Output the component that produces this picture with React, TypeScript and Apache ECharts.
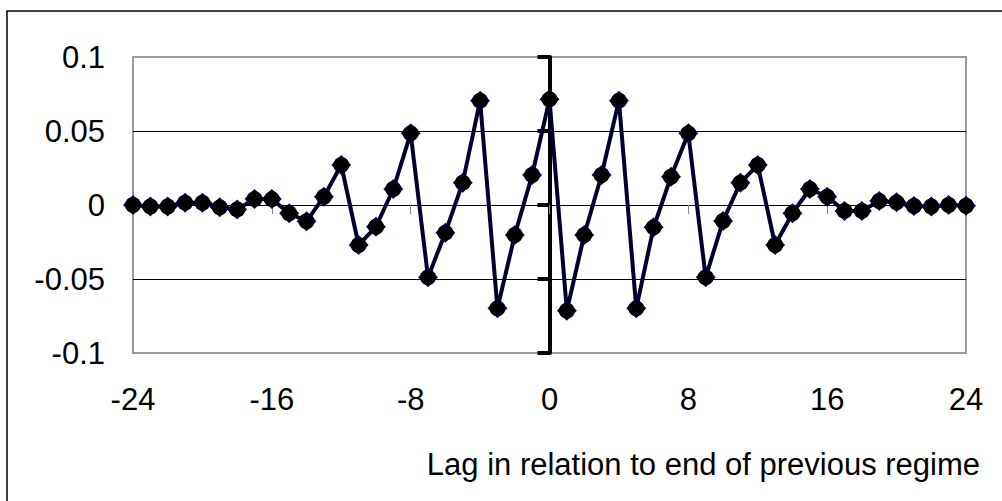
import React, { useEffect, useRef } from "react";
import * as echarts from "echarts";

const lags: number[] = [
  -24, -23, -22, -21, -20, -19, -18, -17, -16, -15, -14, -13, -12, -11, -10, -9, -8, -7, -6, -5, -4, -3, -2, -1,
  0, 1, 2, 3, 4, 5, 6, 7, 8, 9, 10, 11, 12, 13, 14, 15, 16, 17, 18, 19, 20, 21, 22, 23, 24,
];
const values: number[] = [
  0, -0.001, -0.001, 0.0016, 0.0015, -0.0016, -0.003, 0.004, 0.004, -0.0056, -0.011, 0.0056, 0.027, -0.027,
  -0.0147, 0.0108, 0.0484, -0.0489, -0.0187, 0.0151, 0.0705, -0.0698, -0.0203, 0.0203,
  0.0714, -0.0714, -0.0203, 0.0203, 0.0705, -0.0698, -0.0151, 0.0191, 0.0484, -0.0489, -0.0108, 0.0151,
  0.027, -0.027, -0.0056, 0.0108, 0.0056, -0.004, -0.004, 0.0027, 0.0018, -0.0007, -0.001, 0, -0.0005,
];
const xTitle = "Lag in relation to end of previous regime";

const FONT = "'Liberation Sans', Arial, sans-serif";
const FS = 31;

export default function App() {
  const ref = useRef<HTMLDivElement>(null);
  useEffect(() => {
    if (!ref.current) return;
    const chart = echarts.init(ref.current, undefined, { renderer: "svg" });
    const data = lags.map((x, i) => [x, values[i]]);
    chart.setOption({
      animation: false,
      backgroundColor: "#ffffff",
      textStyle: { fontFamily: FONT },
      title: {
        text: xTitle,
        right: 22,
        top: 449,
        padding: 0,
        textStyle: { fontFamily: FONT, fontSize: FS, fontWeight: "normal", color: "#000" },
      },
      graphic: [
        {
          type: "rect",
          shape: { x: 7, y: 11, width: 1100, height: 600 },
          style: { fill: "none", stroke: "#000", lineWidth: 1.5 },
          silent: true,
        },
      ],
      grid: {
        left: 133,
        right: 36,
        top: 57,
        bottom: 148,
        show: true,
        borderColor: "#999999",
        borderWidth: 2,
        backgroundColor: "transparent",
      },
      xAxis: [
        {
          type: "value",
          min: -24,
          max: 24,
          interval: 8,
          position: "bottom",
          axisLine: { show: false, onZero: false },
          axisTick: { show: false },
          splitLine: { show: false },
          axisLabel: { fontSize: FS, color: "#000", margin: 31, fontFamily: FONT },
        },
        {
          type: "value",
          min: -24,
          max: 24,
          interval: 8,
          position: "bottom",
          axisLine: { show: true, onZero: true, lineStyle: { color: "#000", width: 1 } },
          axisTick: { show: true, inside: false, length: 9, lineStyle: { color: "#888", width: 1 } },
          splitLine: { show: false },
          axisLabel: { show: false },
        },
      ],
      yAxis: [
        {
          type: "value",
          min: -0.1,
          max: 0.1,
          interval: 0.05,
          position: "left",
          axisLine: { show: false, onZero: false },
          axisTick: { show: false },
          splitLine: { show: true, showMinLine: false, showMaxLine: false, lineStyle: { color: "#000", width: 1 } },
          axisLabel: { fontSize: FS, color: "#000", margin: 28, fontFamily: FONT },
        },
        {
          type: "value",
          min: -0.1,
          max: 0.1,
          interval: 0.05,
          position: "left",
          axisLine: { show: true, onZero: true, lineStyle: { color: "#000", width: 4 } },
          axisTick: { show: true, inside: false, length: 12, lineStyle: { color: "#000", width: 4 } },
          splitLine: { show: false },
          axisLabel: { show: false },
        },
      ],
      series: [
        {
          type: "line",
          data,
          xAxisIndex: 0,
          yAxisIndex: 0,
          symbol: "diamond",
          symbolSize: 20,
          itemStyle: { color: "#000080" },
          lineStyle: { color: "#00002e", width: 4 },
          z: 5,
        },
        {
          type: "scatter",
          data,
          xAxisIndex: 0,
          yAxisIndex: 0,
          symbol: "circle",
          symbolSize: 16,
          itemStyle: { color: "#000000", opacity: 1 },
          z: 6,
        },
      ],
    });
    return () => chart.dispose();
  }, []);
  return (
    <div
      ref={ref}
      style={{ position: "fixed", left: 0, top: 0, width: 1002, height: 501 }}
    />
  );
}
